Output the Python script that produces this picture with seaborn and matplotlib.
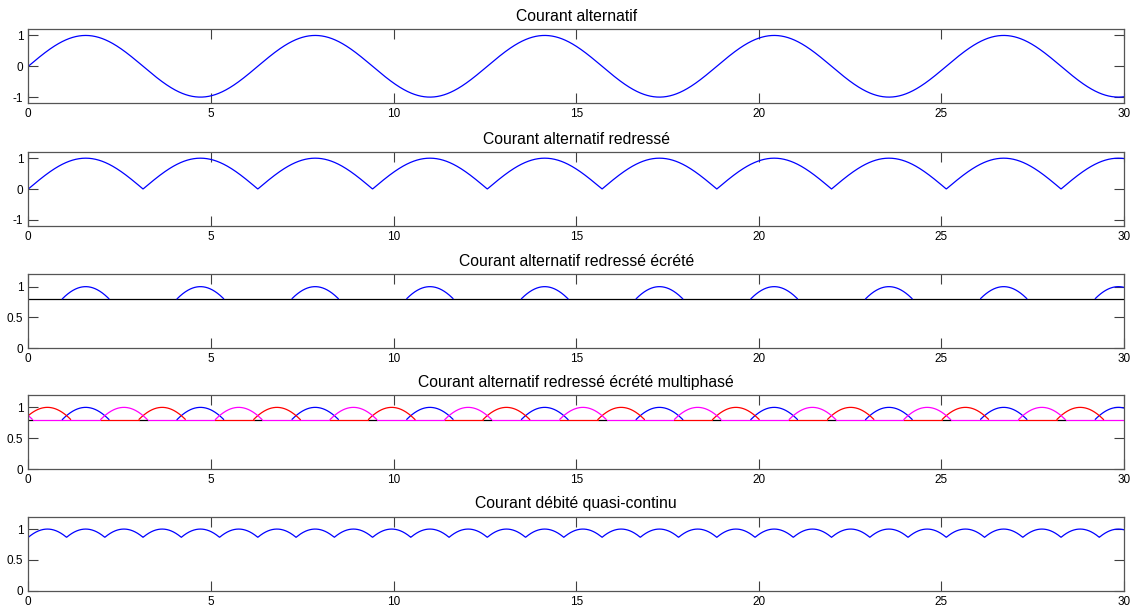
import numpy as np
import pandas as pd
import matplotlib
matplotlib.use("Agg")
import matplotlib.pyplot as plt
import seaborn as sns

# ---- data ----
titles = [
    "Courant alternatif",
    "Courant alternatif redressé",
    "Courant alternatif redressé écrété",
    "Courant alternatif redressé écrété multiphasé",
    "Courant débité quasi-continu",
]
x_start, x_end, x_step = 0.0, 30.0, 0.01
clip_level = 0.8
phase_offsets = [0.0, np.pi / 3, 2 * np.pi / 3]   # blue, red, magenta phases
phase_colors = ["#0000ff", "#ff0000", "#ff00ff"]
xticks = [0, 5, 10, 15, 20, 25, 30]
yticks_ac = [-1, 0, 1]
yticks_dc = [0, 0.5, 1]
ylim_ac = (-1.2, 1.2)
ylim_dc = (0, 1.2)

x = np.arange(x_start, x_end + x_step / 2, x_step)
ac = np.sin(x)
rect = np.abs(np.sin(x))
phases = [np.abs(np.sin(x + p)) for p in phase_offsets]
quasi = np.max(np.vstack(phases), axis=0)


def runs(mask):
    """ids of consecutive runs of a boolean/label array"""
    return np.cumsum(np.r_[True, mask[1:] != mask[:-1]])


def arcs_of(y):
    above = y > clip_level
    return pd.DataFrame({"x": x, "y": y, "arc": runs(above)})[above]


arc_frames = [arcs_of(ph) for ph in phases]

# baseline at the clip level: colour of the top-most curve lying on it
base_label = np.where(phases[2] <= clip_level, "m",
                      np.where(phases[1] <= clip_level, "r", "k"))
seg = runs(base_label)
base_rows = []
for s in np.unique(seg):
    idx = np.where(seg == s)[0]
    hi = min(idx[-1] + 1, len(x) - 1)
    for j in range(idx[0], hi + 1):
        base_rows.append((x[j], clip_level, s, base_label[idx[0]]))
baseline = pd.DataFrame(base_rows, columns=["x", "y", "seg", "c"])
base_palette = {"m": "#ff00ff", "r": "#ff0000", "k": "#000000"}

# ---- style ----
sns.set_theme(style="white")
plt.rcParams["font.family"] = ["Liberation Sans", "DejaVu Sans"]
plt.rcParams["axes.unicode_minus"] = False

fig = plt.figure(figsize=(11.32, 6.10), dpi=100)
left, width, height = 0.025, 0.968, 0.1213
bottoms = [0.8307, 0.6295, 0.429, 0.2311, 0.0316]
axes = [fig.add_axes([left, b, width, height]) for b in bottoms]

lw = 0.9


def line(ax, xs, ys, color):
    sns.lineplot(x=xs, y=ys, ax=ax, color=color, linewidth=lw,
                 estimator=None, sort=False, legend=False)


def arc_lines(ax, df, color):
    sns.lineplot(data=df, x="x", y="y", units="arc", ax=ax, color=color,
                 linewidth=lw, estimator=None, sort=False, legend=False)


hline_x = np.array([x_start, x_end])
hline_y = np.array([clip_level, clip_level])

# panel 1
line(axes[0], x, ac, "#0000ff")
# panel 2
line(axes[1], x, rect, "#0000ff")
# panel 3
line(axes[2], hline_x, hline_y, "black")
arc_lines(axes[2], arc_frames[0], "#0000ff")
# panel 4
sns.lineplot(data=baseline, x="x", y="y", units="seg", hue="c",
             palette=base_palette, ax=axes[3], linewidth=lw,
             estimator=None, sort=False, legend=False)
for df, col in zip(arc_frames, phase_colors):
    arc_lines(axes[3], df, col)
# panel 5
line(axes[4], x, quasi, "#0000ff")

for i, ax in enumerate(axes):
    ax.set_xlim(x_start, x_end)
    if i < 2:
        ax.set_ylim(*ylim_ac)
        ax.set_yticks(yticks_ac)
        ax.set_yticklabels([str(v) for v in yticks_ac])
    else:
        ax.set_ylim(*ylim_dc)
        ax.set_yticks(yticks_dc)
        ax.set_yticklabels(["0", "0.5", "1"])
    ax.set_xticks(xticks)
    ax.set_xticklabels([str(v) for v in xticks])
    ax.set_title(titles[i], fontsize=11.3, pad=6, color="black")
    ax.tick_params(direction="in", length=7, width=0.8, colors="#404040",
                   labelcolor="black", labelsize=8.5, top=True, right=True,
                   bottom=True, left=True, pad=3.5)
    for s in ax.spines.values():
        s.set_color("#555555")
        s.set_linewidth(0.9)
    ax.set_xlabel("")
    ax.set_ylabel("")
    ax.grid(False)
    ax.set_facecolor("white")

fig.savefig("out.png", dpi=100, facecolor="white")
